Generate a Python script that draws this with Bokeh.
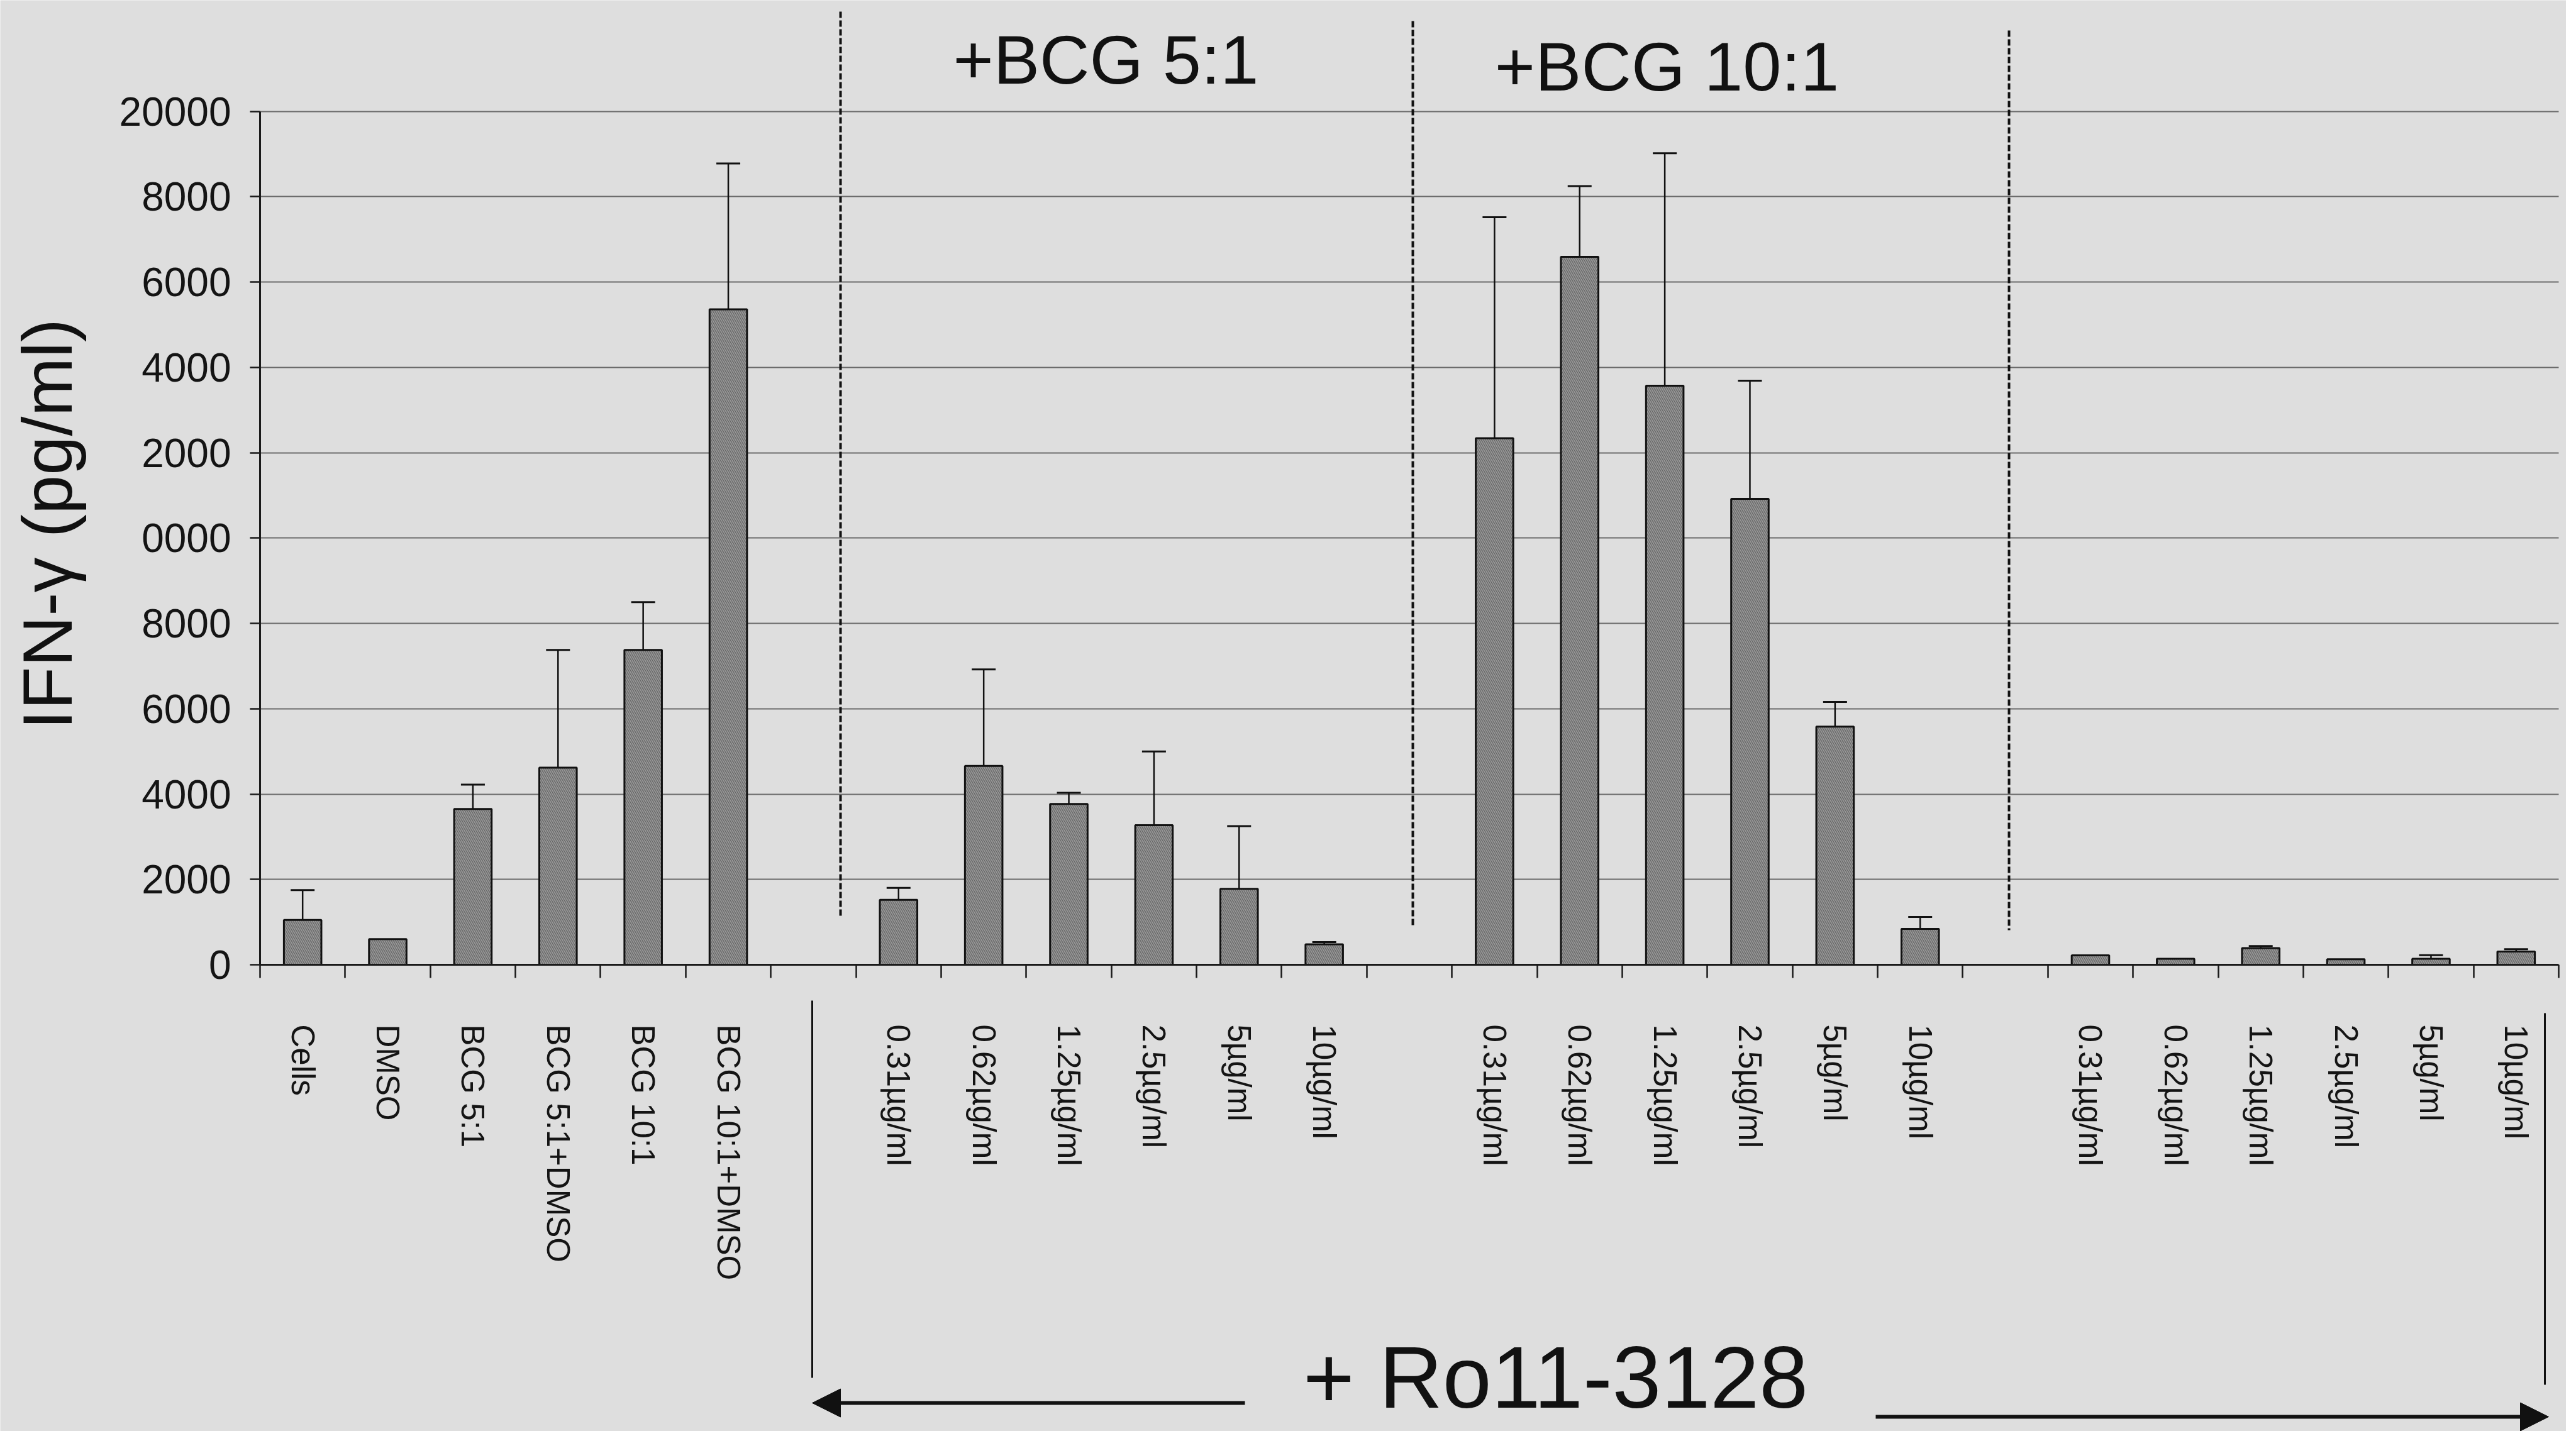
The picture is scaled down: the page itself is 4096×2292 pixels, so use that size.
import math
from bokeh.plotting import figure
from bokeh.models import (Range1d, FixedTicker, Whisker, TeeHead, Arrow, NormalHead,
                          Label, ColumnDataSource)
from bokeh.embed import file_html
from bokeh.resources import INLINE

# ---------------- data ----------------
control_labels = ["Cells", "DMSO", "BCG 5:1", "BCG 5:1+DMSO", "BCG 10:1", "BCG 10:1+DMSO"]
dose_labels = ["0.31µg/ml", "0.62µg/ml", "1.25µg/ml", "2.5µg/ml", "5µg/ml", "10µg/ml"]

control_mean = [1050, 600, 3650, 4620, 7380, 15360]
control_err = [700, 0, 570, 2760, 1120, 3420]
bcg5_mean = [1520, 4660, 3770, 3270, 1780, 480]
bcg5_err = [280, 2260, 260, 1730, 1470, 50]
bcg10_mean = [12340, 16590, 13570, 10920, 5580, 840]
bcg10_err = [5180, 1660, 5450, 2770, 580, 280]
ro_mean = [220, 140, 390, 130, 140, 310]
ro_err = [0, 0, 50, 0, 85, 55]

y_ticks = [0, 2000, 4000, 6000, 8000, 10000, 12000, 14000, 16000, 18000, 20000]
y_tick_labels = ["0", "2000", "4000", "6000", "8000", "0000", "2000", "4000", "6000", "8000", "20000"]

group_titles = ["+BCG 5:1", "+BCG 10:1"]
drug_title = "+ Ro11-3128"
y_title = "IFN-γ (pg/ml)"

# ---------------- layout (figure pixels) ----------------
W, H = 4080, 2276
X_LEFT_PX, X_RIGHT_PX = 413.0, 4068.0      # x = -0.5 and x = 26.5
Y0_PX, Y20K_PX = 1534.0, 176.7              # y = 0 and y = 20000
PXU = (X_RIGHT_PX - X_LEFT_PX) / 27.0
UPP = 20000.0 / (Y0_PX - Y20K_PX)

def dx(px):
    return -0.5 + (px - X_LEFT_PX) / PXU

def dy(py):
    return (Y0_PX - py) * UPP

# ---------------- assemble ----------------
groups = [(0, control_labels, control_mean, control_err),
          (7, dose_labels, bcg5_mean, bcg5_err),
          (14, dose_labels, bcg10_mean, bcg10_err),
          (21, dose_labels, ro_mean, ro_err)]
xs, tops, errs, label_map = [], [], [], {}
for start, labs, means, es in groups:
    for i, (lab, m, e) in enumerate(zip(labs, means, es)):
        xs.append(start + i)
        tops.append(m)
        errs.append(e)
        label_map[start + i] = lab

bar_src = ColumnDataSource(dict(x=xs, top=tops))
wx = [x for x, e in zip(xs, errs) if e > 0]
wl = [t for t, e in zip(tops, errs) if e > 0]
wu = [t + e for t, e in zip(tops, errs) if e > 0]
err_src = ColumnDataSource(dict(x=wx, lower=wl, upper=wu))

BG = "#dedede"
FONT = "Liberation Sans"
INK = "#111111"

p = figure(width=W, height=H, output_backend="svg", toolbar_location=None,
           x_range=Range1d(dx(0), dx(W)), y_range=Range1d(dy(H), dy(0)),
           min_border=0, background_fill_color=BG, border_fill_color=BG)
p.outline_line_color = None

# axes placed on the data origin
xa = p.xaxis[0]
xa.fixed_location = 0
xa.bounds = (-0.5, 26.5)
xa.ticker = FixedTicker(ticks=xs, minor_ticks=[i - 0.5 for i in range(28)])
xa.major_label_overrides = {k: v for k, v in label_map.items()}
xa.major_label_orientation = "vertical"
xa.major_label_text_font = FONT
xa.major_label_text_font_size = "51px"
xa.major_label_text_color = "#141414"
xa.major_label_standoff = 74
xa.major_tick_out = 0
xa.major_tick_in = 0
xa.minor_tick_out = 21
xa.minor_tick_in = 0
xa.minor_tick_line_width = 2.5
xa.minor_tick_line_color = "#1a1a1a"
xa.axis_line_width = 3
xa.axis_line_color = "#1a1a1a"

ya = p.yaxis[0]
ya.fixed_location = -0.5
ya.bounds = (0, 20000)
ya.ticker = FixedTicker(ticks=y_ticks, minor_ticks=[])
ya.major_label_overrides = {t: l for t, l in zip(y_ticks, y_tick_labels)}
ya.major_label_text_font = FONT
ya.major_label_text_font_size = "64px"
ya.major_label_text_color = "#141414"
ya.major_label_standoff = 30
ya.major_tick_out = 16
ya.major_tick_in = 0
ya.major_tick_line_width = 2.5
ya.major_tick_line_color = "#1a1a1a"
ya.axis_line_width = 3
ya.axis_line_color = "#1a1a1a"

p.xgrid.visible = False
g = p.ygrid[0]
g.ticker = FixedTicker(ticks=y_ticks[1:])
g.cross_bounds = (-0.5, 26.5)
g.grid_line_color = "#6a6a6a"
g.grid_line_width = 2

# bars
p.vbar(x="x", top="top", bottom=0, width=0.44, source=bar_src,
       fill_color="#9a9a9a", line_color=INK, line_width=3,
       hatch_pattern="right_diagonal_line", hatch_color="#5a5a5a",
       hatch_scale=6, hatch_weight=1.2, hatch_alpha=0.85)

# error bars
p.add_layout(Whisker(base="x", lower="lower", upper="upper", source=err_src,
                     dimension="height", line_color=INK, line_width=2.5,
                     upper_head=TeeHead(size=38, line_width=3, line_color=INK),
                     lower_head=None))

# dashed separators
p.segment(x0=[dx(1336), dx(2246), dx(3194)], y0=[dy(18), dy(33), dy(48)],
          x1=[dx(1336), dx(2246), dx(3194)], y1=[dy(1458), dy(1473), dy(1479)],
          line_color=INK, line_width=4, line_dash="10 4")

# brackets
p.segment(x0=[dx(1291), dx(4046)], y0=[dy(1591), dy(1611)],
          x1=[dx(1291), dx(4046)], y1=[dy(2191), dy(2202)],
          line_color=INK, line_width=3)

# arrows
p.add_layout(Arrow(x_start=dx(1979), y_start=dy(2231), x_end=dx(1291), y_end=dy(2231),
                   line_width=6, line_color=INK,
                   end=NormalHead(size=45, fill_color=INK, line_color=INK)))
p.add_layout(Arrow(x_start=dx(2982), y_start=dy(2253), x_end=dx(4052), y_end=dy(2253),
                   line_width=6, line_color=INK,
                   end=NormalHead(size=45, fill_color=INK, line_color=INK)))

# texts
p.add_layout(Label(x=dx(1758), y=dy(94), text=group_titles[0], text_align="center",
                   text_baseline="alphabetic", text_font=FONT, text_font_size="110px",
                   text_color=INK))
p.add_layout(Label(x=dx(2650), y=dy(105), text=group_titles[1], text_align="center",
                   text_baseline="alphabetic", text_font=FONT, text_font_size="110px",
                   text_color=INK))
p.add_layout(Label(x=dx(2473), y=dy(2190), text=drug_title, text_align="center",
                   text_baseline="alphabetic", text_font=FONT, text_font_size="140px",
                   text_color=INK))
p.add_layout(Label(x=dx(75), y=dy(833), text=y_title, angle=math.pi / 2,
                   text_align="center", text_baseline="alphabetic", text_font=FONT,
                   text_font_size="112px", text_color=INK))

open("out.html", "w").write(file_html(p, INLINE))
